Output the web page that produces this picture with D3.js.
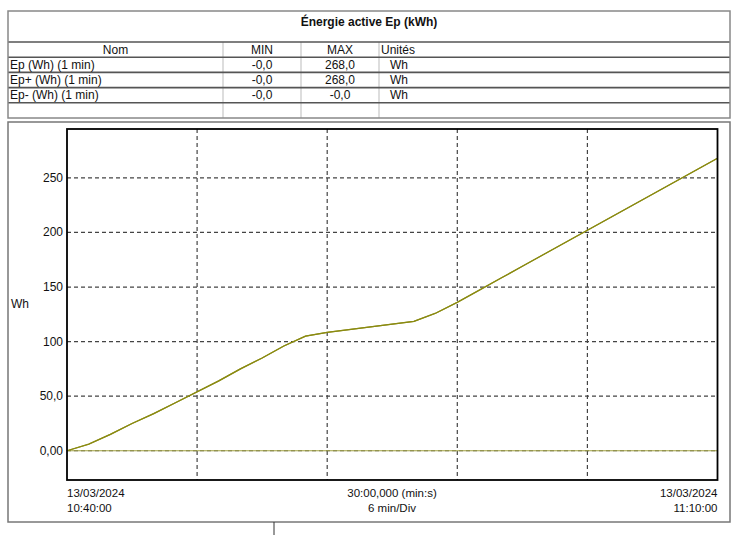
<!DOCTYPE html>
<html lang="fr">
<head>
    <meta charset="UTF-8">
    <title>Énergie active Ep (kWh)</title>
    <script src="https://d3js.org/d3.v7.min.js"></script>
    <style>
        body { margin: 0; background: #fff; }
        text { font-family: "Liberation Sans", Arial, sans-serif; fill: #111; }
    </style>
</head>
<body>
    <div id="chart"></div>

    <script>
        // Table contents
        const tableTitle = "Énergie active Ep (kWh)";
        const tableHeaders = ["Nom", "MIN", "MAX", "Unités"];
        const seriesNames = ["Ep (Wh) (1 min)", "Ep+ (Wh) (1 min)", "Ep- (Wh) (1 min)"];
        const seriesMin = ["-0,0", "-0,0", "-0,0"];
        const seriesMax = ["268,0", "268,0", "-0,0"];
        const seriesUnits = ["Wh", "Wh", "Wh"];

        // Series: one value per minute, 10:40 -> 11:10
        const minutes = d3.range(0, 31);
        const epValues = [0, 6, 15, 25, 34, 44, 54, 64, 75, 85, 96, 105, 108.5, 111, 113.5, 116,
                          118.5, 126, 136, 147, 158, 169, 180, 191, 202, 213, 224, 235, 246, 257, 268];
        const epPlusValues = epValues.slice();
        const epMinusValues = minutes.map(() => 0);

        const yTicks = [0, 50, 100, 150, 200, 250];
        const yTickLabels = ["0,00", "50,0", "100", "150", "200", "250"];
        const xGrid = [6, 12, 18, 24];

        const width = 740, height = 535;
        const svg = d3.select("#chart").append("svg")
            .attr("width", width).attr("height", height);

        // ---- table ----
        const tbl = { x0: 8, x1: 730, top: 11, titleBottom: 42, rowH: 15.2 };
        const colX = [8, 223, 301, 379, 730];
        const rowY = d3.range(6).map(i => tbl.titleBottom + i * tbl.rowH);

        svg.append("text")
            .attr("x", (tbl.x0 + tbl.x1) / 2).attr("y", 26)
            .attr("text-anchor", "middle")
            .attr("font-size", 12).attr("font-weight", "bold")
            .text(tableTitle);

        // light column separators
        colX.slice(1, 4).forEach(x => {
            svg.append("line")
                .attr("x1", x).attr("x2", x)
                .attr("y1", rowY[0]).attr("y2", rowY[5])
                .attr("stroke", "#bbb").attr("stroke-width", 1);
        });
        // row separators
        rowY.slice(0, 5).forEach(y => {
            svg.append("line")
                .attr("x1", tbl.x0).attr("x2", tbl.x1)
                .attr("y1", y).attr("y2", y)
                .attr("stroke", "#555").attr("stroke-width", 1.6);
        });
        svg.append("rect")
            .attr("x", tbl.x0).attr("y", tbl.top)
            .attr("width", tbl.x1 - tbl.x0).attr("height", rowY[5] - tbl.top)
            .attr("fill", "none").attr("stroke", "#888").attr("stroke-width", 1.5);

        const headerY = rowY[0] + 11.5;
        svg.append("text").attr("x", (colX[0] + colX[1]) / 2).attr("y", headerY)
            .attr("text-anchor", "middle").attr("font-size", 12).text(tableHeaders[0]);
        svg.append("text").attr("x", (colX[1] + colX[2]) / 2).attr("y", headerY)
            .attr("text-anchor", "middle").attr("font-size", 12).text(tableHeaders[1]);
        svg.append("text").attr("x", (colX[2] + colX[3]) / 2).attr("y", headerY)
            .attr("text-anchor", "middle").attr("font-size", 12).text(tableHeaders[2]);
        svg.append("text").attr("x", colX[3] + 2).attr("y", headerY)
            .attr("font-size", 12).text(tableHeaders[3]);

        seriesNames.forEach((name, i) => {
            const y = rowY[i + 1] + 11.5;
            svg.append("text").attr("x", colX[0] + 2).attr("y", y)
                .attr("font-size", 12).text(name);
            svg.append("text").attr("x", (colX[1] + colX[2]) / 2).attr("y", y)
                .attr("text-anchor", "middle").attr("font-size", 12).text(seriesMin[i]);
            svg.append("text").attr("x", (colX[2] + colX[3]) / 2).attr("y", y)
                .attr("text-anchor", "middle").attr("font-size", 12).text(seriesMax[i]);
            svg.append("text").attr("x", colX[3] + 11).attr("y", y)
                .attr("font-size", 12).text(seriesUnits[i]);
        });

        // ---- chart panel ----
        svg.append("rect")
            .attr("x", 8).attr("y", 122)
            .attr("width", 722).attr("height", 400)
            .attr("fill", "none").attr("stroke", "#777").attr("stroke-width", 1.5);
        svg.append("line")
            .attr("x1", 274).attr("x2", 274).attr("y1", 522).attr("y2", 535)
            .attr("stroke", "#333").attr("stroke-width", 1);

        const plot = { left: 67, right: 717.5, top: 129, bottom: 480 };
        const x = d3.scaleLinear().domain([0, 30]).range([plot.left, plot.right]);
        const y = d3.scaleLinear().domain([-26.8, 294.8]).range([plot.bottom, plot.top]);

        const grid = svg.append("g")
            .attr("stroke", "#444").attr("stroke-width", 1.2)
            .attr("stroke-dasharray", "4,3");
        grid.selectAll(".hg").data(yTicks).enter().append("line")
            .attr("x1", plot.left).attr("x2", plot.right)
            .attr("y1", d => y(d)).attr("y2", d => y(d));
        grid.selectAll(".vg").data(xGrid).enter().append("line")
            .attr("x1", d => x(d)).attr("x2", d => x(d))
            .attr("y1", plot.top).attr("y2", plot.bottom);

        // y tick labels
        svg.selectAll(".ylab").data(yTicks).enter().append("text")
            .attr("x", plot.left - 4).attr("y", d => y(d) + 4)
            .attr("text-anchor", "end").attr("font-size", 12)
            .text((d, i) => yTickLabels[i]);

        svg.append("text").attr("x", 11).attr("y", 308)
            .attr("font-size", 12).text("Wh");

        // series
        const line = d3.line().x((d, i) => x(minutes[i])).y(d => y(d));
        svg.append("path").datum(epMinusValues).attr("d", line)
            .attr("fill", "none").attr("stroke", "#a0a040").attr("stroke-width", 1.2);
        svg.append("path").datum(epPlusValues).attr("d", line)
            .attr("fill", "none").attr("stroke", "#8f8f20").attr("stroke-width", 1.3);
        svg.append("path").datum(epValues).attr("d", line)
            .attr("fill", "none").attr("stroke", "#8a8a10").attr("stroke-width", 1.2);

        // plot frame
        svg.append("rect")
            .attr("x", plot.left).attr("y", plot.top)
            .attr("width", plot.right - plot.left).attr("height", plot.bottom - plot.top)
            .attr("fill", "none").attr("stroke", "#000").attr("stroke-width", 1.8);

        // x labels
        const xl = svg.append("g");
        xl.append("text").attr("x", plot.left).attr("y", 497).attr("font-size", 11.5).text("13/03/2024");
        xl.append("text").attr("x", plot.left).attr("y", 512).attr("font-size", 11.5).text("10:40:00");
        xl.append("text").attr("x", 392).attr("y", 497).attr("text-anchor", "middle").attr("font-size", 11.5).text("30:00,000 (min:s)");
        xl.append("text").attr("x", 392).attr("y", 512).attr("text-anchor", "middle").attr("font-size", 11.5).text("6 min/Div");
        xl.append("text").attr("x", plot.right).attr("y", 497).attr("text-anchor", "end").attr("font-size", 11.5).text("13/03/2024");
        xl.append("text").attr("x", plot.right).attr("y", 512).attr("text-anchor", "end").attr("font-size", 11.5).text("11:10:00");
    </script>
</body>
</html>
